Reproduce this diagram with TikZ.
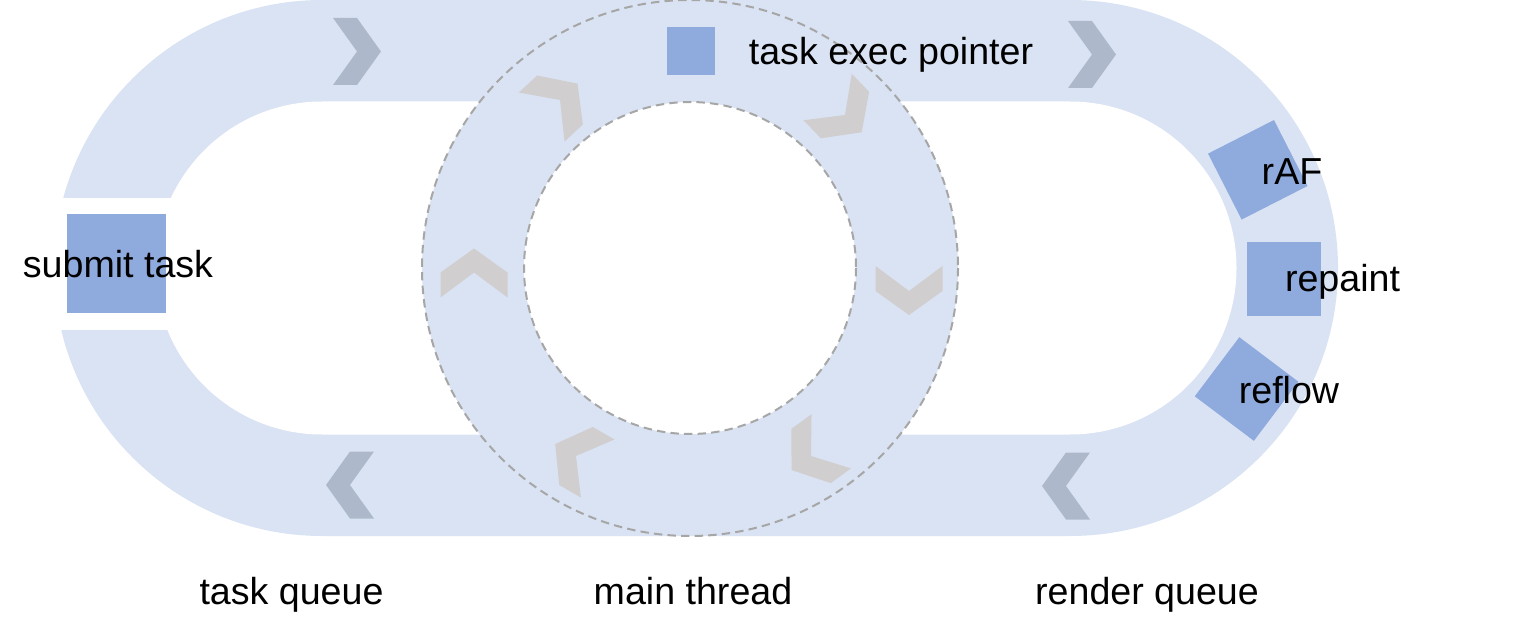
\documentclass[tikz,border=0pt]{standalone}
\usepackage{fontspec}
\setmainfont{Liberation Sans}
\definecolor{bandblue}{HTML}{DAE3F3}
\definecolor{boxblue}{HTML}{8FAADC}
\definecolor{bandarrow}{HTML}{ADB9CA}
\definecolor{ringarrow}{HTML}{D0CECE}
\definecolor{ringline}{HTML}{A6A6A6}
\begin{document}
\begin{tikzpicture}[x=0.5pt, y=-0.5pt,
    sq/.style={fill=boxblue, inner sep=0pt, minimum size=#1},
    sq/.default=37pt,
    lbl/.style={font=\fontsize{18.8}{22}\selectfont, inner sep=0pt, anchor=base},
    ringedge/.style={draw=ringline, line width=1pt, dash pattern=on 4.2pt off 2.6pt}]
  \useasboundingbox (0,0) rectangle (1536,636);

  % Queue band (task queue + render queue)
  \fill[bandblue, rounded corners=134pt] (54,0) rectangle (1338,536);
  \fill[white, rounded corners=83.25pt] (155.5,101.5) rectangle (1236.5,434.5);
  \fill[white] (40,198) rectangle (200,330);

  % Main thread ring
  \coordinate (mt) at (690,268);
  \filldraw[fill=bandblue, ringedge] (mt) circle[radius=268];
  \filldraw[fill=white, ringedge] (mt) circle[radius=166];

  % Band chevrons
  \foreach \x/\y/\a in {357/51.5/0, 1092/54.5/0, 350/485/180, 1066/486/180}
    \fill[bandarrow, shift={(\x,\y)}, rotate=\a]
      (24,0) -- (0,33.5) -- (-24,33.5) -- (0,0) -- (-24,-33.5) -- (0,-33.5) -- cycle;

  % Ring chevrons (clockwise)
  \foreach \x/\y/\a in {560/100/43, 845/115/-46, 909/291/-90,
                        811/456/-144, 576/456/150, 474/272.5/90}
    \fill[ringarrow, shift={(\x,\y)}, rotate=\a]
      (24,0) -- (0,33.5) -- (-25,33.5) -- (0,0) -- (-25,-33.5) -- (0,-33.5) -- cycle;

  % Boxes
  \node[sq=49.5pt] (submit) at (116.5,263.5) {};
  \node[sq=24pt] (execptr) at (691,51.5) {};
  \node[sq, rotate=27] (raf) at (1257.8,169.8) {};
  \node[sq] (repaint) at (1284,279) {};
  \node[sq, rotate=-37] (reflow) at (1246.6,389) {};

  % Labels
  \node[lbl] (submitlbl) at (118,278) {submit task};
  \node[lbl] (execlbl) at (891,65) {task exec pointer};
  \node[lbl] (raflbl) at (1292,185) {rAF};
  \node[lbl] (repaintlbl) at (1342.5,292) {repaint};
  \node[lbl] (reflowlbl) at (1289,403) {reflow};
  \node[lbl] (tasklbl) at (291.5,604) {task queue};
  \node[lbl] (mainlbl) at (693,604) {main thread};
  \node[lbl] (renderlbl) at (1147,604) {render queue};
\end{tikzpicture}
\end{document}
